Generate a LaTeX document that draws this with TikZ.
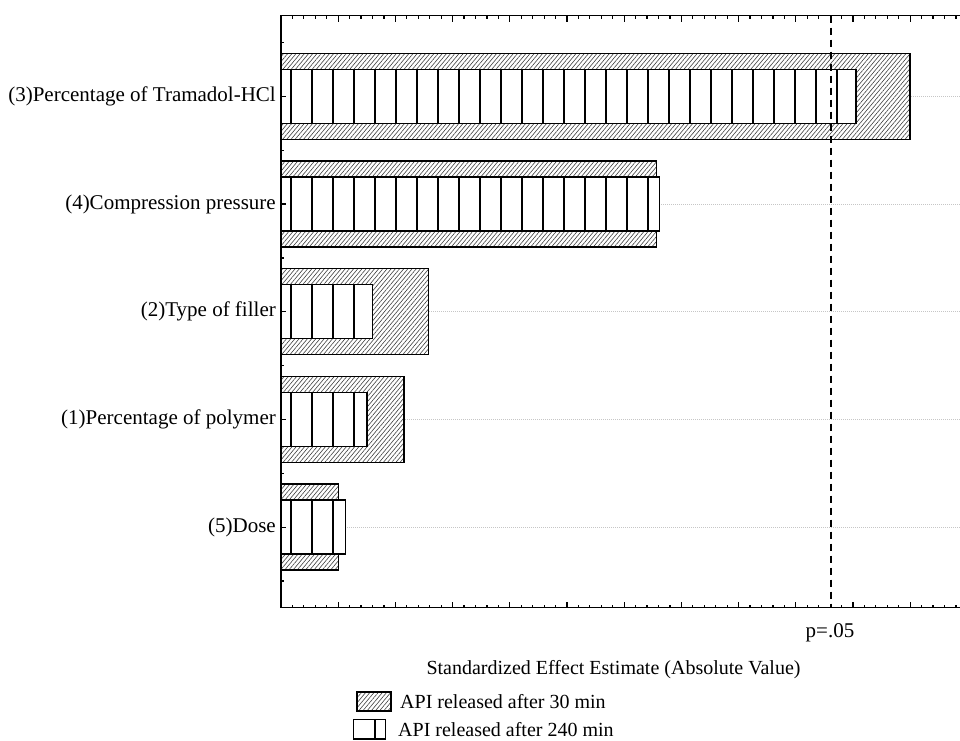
\documentclass[tikz,border=0pt]{standalone}
\usepackage{fontspec}
\setmainfont{Liberation Serif}
\usetikzlibrary{patterns.meta}

\begin{document}
\begin{tikzpicture}[x=1pt, y=-1pt,
  hatchbar/.style={draw=black, line width=1.5pt, preaction={fill=white},
    pattern={Lines[angle=50, distance=3.2pt, line width=0.6pt]}, pattern color=black!75},
  openbar/.style={draw=black, line width=1.5pt, fill=white},
  stripe/.style={line width=1.7pt},
  gridline/.style={gray!45, line width=0.8pt, dash pattern=on 1pt off 1pt},
  axisline/.style={line width=1.2pt},
  pline/.style={line width=1.5pt, dash pattern=on 7pt off 5pt},
  smalltext/.style={font=\fontsize{20}{23}\selectfont},
  every node/.style={font=\fontsize{21}{24}\selectfont, inner sep=0pt}]
  \useasboundingbox (0,0) rectangle (960,740);

  % grid behind the bars
  \foreach \y in {96.3,204,311.7,419.4,527.1}
    \draw[gridline] (281,\y) -- (960,\y);

  % bars: centre, end of 30 min bar, end of 240 min bar
  \foreach \y/\ha/\hb in {96.3/910/856, 204/656.7/659.3, 311.7/428.7/372.3,
                          419.4/404/367, 527.1/338.3/345.7} {
    \draw[hatchbar] (281,\y-43) rectangle (\ha,\y+43);
    \fill[white] (281,\y-27) rectangle (\hb,\y+27);
    \begin{scope}
      \clip (281,\y-27) rectangle (\hb,\y+27);
      \foreach \k in {0,...,27}
        \draw[stripe] (290.7+21*\k,\y-27) -- (290.7+21*\k,\y+27);
    \end{scope}
    \draw[openbar, fill=none] (281,\y-27) rectangle (\hb,\y+27);
  }

  % frame and ticks
  \draw[axisline] (960,15.5) -- (281,15.5) -- (281,607.7) -- (960,607.7);
  \foreach \k in {1,...,59} {
    \draw[axisline] (281+11.44*\k,15.5) -- ++(0,3);
    \draw[axisline] (281+11.44*\k,607.7) -- ++(0,-3);
  }
  \foreach \k in {1,...,11} {
    \draw[axisline] (281+57.2*\k,15.5) -- ++(0,6);
    \draw[axisline] (281+57.2*\k,607.7) -- ++(0,-6);
  }
  \foreach \y in {96.3,204,311.7,419.4,527.1}
    \draw[axisline] (281,\y) -- ++(5,0);
  \foreach \k in {0,...,5}
    \draw[axisline] (281,42.5+107.7*\k) -- ++(3,0);

  % significance line
  \draw[pline] (831,15.5) -- (831,607.7);

  % factor labels
  \node[anchor=east] (perctram) at (276,96.3) {(3)Percentage of Tramadol-HCl};
  \node[anchor=east] (comppress) at (276,204) {(4)Compression pressure};
  \node[anchor=east] (filler) at (276,311.7) {(2)Type of filler};
  \node[anchor=east] (percpoly) at (276,419.4) {(1)Percentage of polymer};
  \node[anchor=east] (dose) at (276,527.1) {(5)Dose};

  \node (plabel) at (830,633) {p=.05};
  \node[smalltext] (xtitle) at (613.5,670) {Standardized Effect Estimate (Absolute Value)};

  % legend
  \draw[hatchbar, line width=1.2pt] (357,692) rectangle (391,711);
  \node[smalltext, anchor=west] (leg30) at (400,702) {API released after 30 min};
  \draw[line width=1.5pt] (353.5,719.5) rectangle (385.7,739);
  \draw[line width=1.5pt] (375,719.5) -- (375,739);
  \node[smalltext, anchor=west] (leg240) at (398,729.5) {API released after 240 min};
\end{tikzpicture}
\end{document}
